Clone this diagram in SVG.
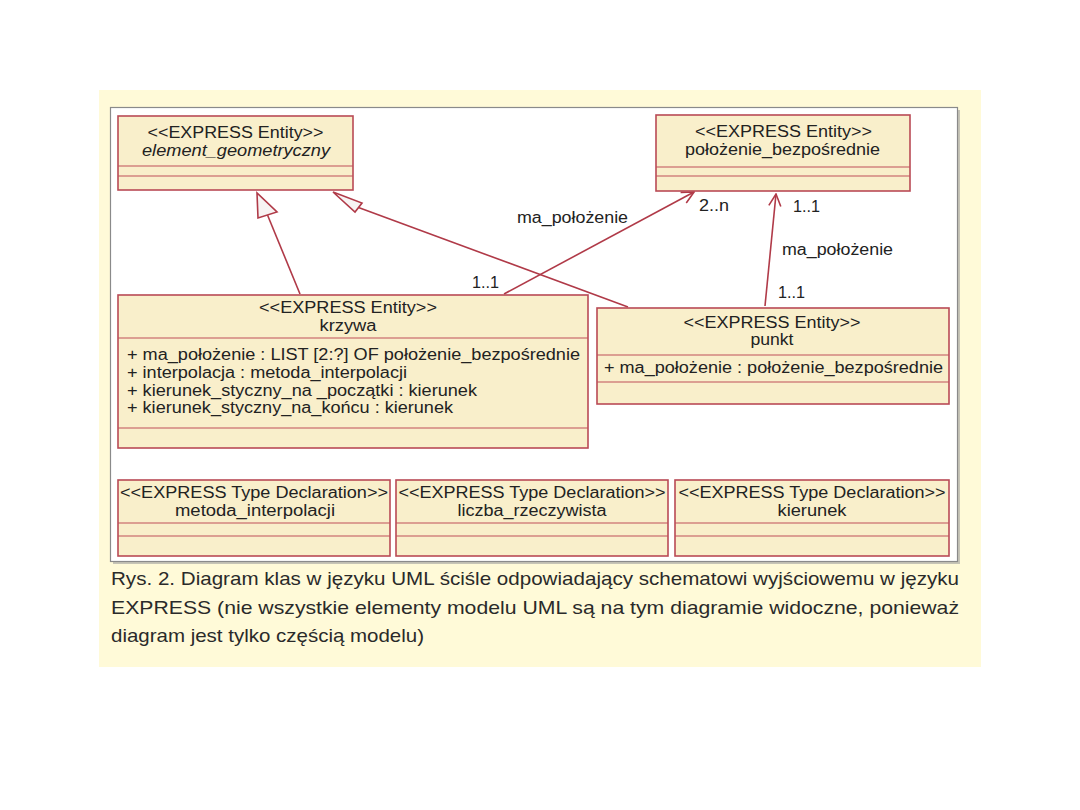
<svg xmlns="http://www.w3.org/2000/svg" width="1080" height="810" viewBox="0 0 1080 810">
<style>
  .box { fill: #f9efcb; stroke: #b94a55; stroke-width: 1.6; }
  .div { stroke: #c0505a; stroke-width: 1.2; fill: none; }
  .t { font-family: "Liberation Sans", Arial, sans-serif; font-size: 16px; fill: #222; }
  .c { text-anchor: middle; }
  .it { font-style: italic; }
  .edge { stroke: #b03a48; stroke-width: 1.6; fill: none; }
  .cap { font-family: "Liberation Sans", Arial, sans-serif; font-size: 19px; fill: #2a2a2a; }
</style>
<defs>
  <marker id="open" viewBox="0 0 14 14" refX="13" refY="7" markerWidth="14" markerHeight="14" markerUnits="userSpaceOnUse" orient="auto">
    <path d="M1,1 L13,7 L1,13" fill="none" stroke="#b03a48" stroke-width="1.6"/>
  </marker>
</defs>
<rect x="0" y="0" width="1080" height="810" fill="#ffffff"/>
<rect x="99" y="90" width="882" height="577" fill="#fffad8"/>
<rect x="113" y="110" width="847" height="454" fill="#a0a0a0" opacity="0.6"/>
<rect x="110.5" y="107.5" width="847" height="454" fill="#ffffff" stroke="#8a8a8a" stroke-width="1.2"/>

<g id="connectors">
  <line class="edge" x1="300" y1="294" x2="267.5" y2="215"/>
  <polygon points="257,193 258,218 277,212" fill="#f7f3f3" stroke="#b03a48" stroke-width="1.6"/>
  <line class="edge" x1="628" y1="307" x2="358.5" y2="207.5"/>
  <polygon points="333,192 355,212 362,203" fill="#f7f3f3" stroke="#b03a48" stroke-width="1.6"/>
  <line class="edge" x1="504" y1="294" x2="694" y2="192" marker-end="url(#open)"/>
  <line class="edge" x1="765" y1="306" x2="776" y2="194" marker-end="url(#open)"/>
  <text class="t" x="517" y="223" textLength="111" lengthAdjust="spacingAndGlyphs">ma_położenie</text>
  <text class="t" x="699" y="211" textLength="30" lengthAdjust="spacingAndGlyphs">2..n</text>
  <text class="t" x="793" y="212" textLength="27" lengthAdjust="spacingAndGlyphs">1..1</text>
  <text class="t" x="782" y="255" textLength="111" lengthAdjust="spacingAndGlyphs">ma_położenie</text>
  <text class="t" x="778" y="298" textLength="27" lengthAdjust="spacingAndGlyphs">1..1</text>
  <text class="t" x="472" y="288" textLength="27" lengthAdjust="spacingAndGlyphs">1..1</text>
</g>

<g id="element_geometryczny">
  <rect class="box" x="118" y="116" width="235" height="74"/>
  <line class="div" x1="118" y1="166" x2="353" y2="166"/>
  <line class="div" x1="118" y1="176" x2="353" y2="176"/>
  <text class="t c" x="235.5" y="138" textLength="176" lengthAdjust="spacingAndGlyphs">&lt;&lt;EXPRESS Entity&gt;&gt;</text>
  <text class="t c it" x="236" y="156" textLength="188" lengthAdjust="spacingAndGlyphs">element_geometryczny</text>
</g>

<g id="polozenie_bezposrednie">
  <rect class="box" x="656" y="115" width="254" height="76"/>
  <line class="div" x1="656" y1="167" x2="910" y2="167"/>
  <line class="div" x1="656" y1="176" x2="910" y2="176"/>
  <text class="t c" x="783.5" y="137" textLength="177" lengthAdjust="spacingAndGlyphs">&lt;&lt;EXPRESS Entity&gt;&gt;</text>
  <text class="t c" x="782.5" y="155" textLength="195" lengthAdjust="spacingAndGlyphs">położenie_bezpośrednie</text>
</g>

<g id="krzywa">
  <rect class="box" x="118" y="295" width="470" height="153"/>
  <line class="div" x1="118" y1="338" x2="588" y2="338"/>
  <line class="div" x1="118" y1="428" x2="588" y2="428"/>
  <text class="t c" x="348" y="313" textLength="178" lengthAdjust="spacingAndGlyphs">&lt;&lt;EXPRESS Entity&gt;&gt;</text>
  <text class="t c" x="348" y="331" textLength="57" lengthAdjust="spacingAndGlyphs">krzywa</text>
  <text class="t" x="127" y="360" textLength="453" lengthAdjust="spacingAndGlyphs">+ ma_położenie : LIST [2:?] OF położenie_bezpośrednie</text>
  <text class="t" x="127" y="378" textLength="280" lengthAdjust="spacingAndGlyphs">+ interpolacja : metoda_interpolacji</text>
  <text class="t" x="127" y="396" textLength="350" lengthAdjust="spacingAndGlyphs">+ kierunek_styczny_na _początki : kierunek</text>
  <text class="t" x="127" y="413" textLength="326" lengthAdjust="spacingAndGlyphs">+ kierunek_styczny_na_końcu : kierunek</text>
</g>

<g id="punkt">
  <rect class="box" x="597" y="308" width="352" height="96"/>
  <line class="div" x1="597" y1="355" x2="949" y2="355"/>
  <line class="div" x1="597" y1="382" x2="949" y2="382"/>
  <text class="t c" x="772" y="328" textLength="177" lengthAdjust="spacingAndGlyphs">&lt;&lt;EXPRESS Entity&gt;&gt;</text>
  <text class="t c" x="772" y="345" textLength="43" lengthAdjust="spacingAndGlyphs">punkt</text>
  <text class="t" x="604" y="373" textLength="339" lengthAdjust="spacingAndGlyphs">+ ma_położenie : położenie_bezpośrednie</text>
</g>

<g id="metoda_interpolacji">
  <rect class="box" x="118" y="480" width="272" height="76"/>
  <line class="div" x1="118" y1="523" x2="390" y2="523"/>
  <line class="div" x1="118" y1="536" x2="390" y2="536"/>
  <text class="t c" x="254" y="498" textLength="268" lengthAdjust="spacingAndGlyphs">&lt;&lt;EXPRESS Type Declaration&gt;&gt;</text>
  <text class="t c" x="255" y="516" textLength="160" lengthAdjust="spacingAndGlyphs">metoda_interpolacji</text>
</g>

<g id="liczba_rzeczywista">
  <rect class="box" x="396" y="480" width="272" height="76"/>
  <line class="div" x1="396" y1="523" x2="668" y2="523"/>
  <line class="div" x1="396" y1="536" x2="668" y2="536"/>
  <text class="t c" x="532" y="498" textLength="267" lengthAdjust="spacingAndGlyphs">&lt;&lt;EXPRESS Type Declaration&gt;&gt;</text>
  <text class="t c" x="532" y="516" textLength="149" lengthAdjust="spacingAndGlyphs">liczba_rzeczywista</text>
</g>

<g id="kierunek">
  <rect class="box" x="675" y="480" width="274" height="76"/>
  <line class="div" x1="675" y1="523" x2="949" y2="523"/>
  <line class="div" x1="675" y1="536" x2="949" y2="536"/>
  <text class="t c" x="812" y="498" textLength="267" lengthAdjust="spacingAndGlyphs">&lt;&lt;EXPRESS Type Declaration&gt;&gt;</text>
  <text class="t c" x="812" y="516" textLength="69" lengthAdjust="spacingAndGlyphs">kierunek</text>
</g>

<g id="caption">
  <text class="cap" x="111" y="585" textLength="848" lengthAdjust="spacingAndGlyphs">Rys. 2. Diagram klas w języku UML ściśle odpowiadający schematowi wyjściowemu w języku</text>
  <text class="cap" x="111" y="614" textLength="848" lengthAdjust="spacingAndGlyphs">EXPRESS (nie wszystkie elementy modelu UML są na tym diagramie widoczne, ponieważ</text>
  <text class="cap" x="111" y="642" textLength="313" lengthAdjust="spacingAndGlyphs">diagram jest tylko częścią modelu)</text>
</g>
</svg>
